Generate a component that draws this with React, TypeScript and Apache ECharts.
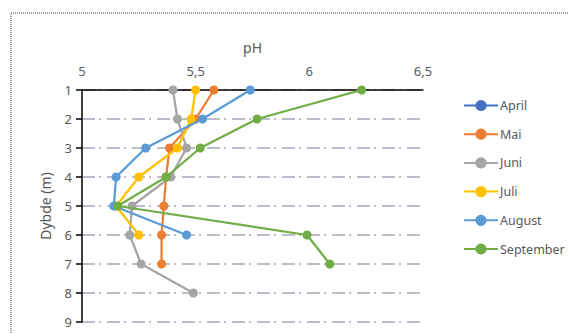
import React, { useEffect, useRef } from "react";
import * as echarts from "echarts";

const depths = [1, 2, 3, 4, 5, 6, 7, 8];
const seriesNames = ["April", "Mai", "Juni", "Juli", "August", "September"];
const colors = ["#4472C4", "#ED7D31", "#A5A5A5", "#FFC000", "#5B9BD5", "#70AD47"];
const aprilPH: (number | null)[] = [null, null, null, null, null, null, null, null];
const maiPH: (number | null)[] = [5.58, 5.5, 5.385, 5.37, 5.36, 5.35, 5.35, null];
const juniPH: (number | null)[] = [5.4, 5.42, 5.46, 5.39, 5.22, 5.21, 5.26, 5.49];
const juliPH: (number | null)[] = [5.5, 5.48, 5.42, 5.25, 5.15, 5.25, null, null];
const augustPH: (number | null)[] = [5.74, 5.53, 5.28, 5.15, 5.14, 5.46, null, null];
const septemberPH: (number | null)[] = [6.23, 5.77, 5.52, 5.37, 5.157, 5.99, 6.09, null];

const allPH = [aprilPH, maiPH, juniPH, juliPH, augustPH, septemberPH];

export default function App() {
  const ref = useRef<HTMLDivElement>(null);
  useEffect(() => {
    if (!ref.current) return;
    const chart = echarts.init(ref.current, null, { renderer: "svg" });
    const font = "Noto Sans";
    const series = seriesNames.map((name, i) => ({
      name,
      type: "line",
      data: allPH[i]
        .map((v, j) => (v === null ? null : [v, depths[j]]))
        .filter((p) => p !== null),
      symbol: "circle",
      symbolSize: 9,
      lineStyle: { width: 2.25, color: colors[i] },
      itemStyle: { color: colors[i] },
      z: 2 + i,
    }));
    chart.setOption({
      animation: false,
      textStyle: { fontFamily: font },
      graphic: [
        {
          type: "rect",
          shape: { x: 11, y: 13, width: 620, height: 400 },
          style: { fill: "none", stroke: "#404040", lineWidth: 1, lineDash: [1, 1] },
          silent: true,
        },
      ],
      legend: {
        orient: "vertical",
        left: 458,
        top: 94,
        itemWidth: 34,
        itemHeight: 14,
        itemGap: 15.7,
        data: seriesNames,
        textStyle: { fontSize: 12.5, color: "#595959", fontFamily: font, padding: [0, 0, 0, -3] },
      },
      grid: { left: 82, right: 146, top: 90, bottom: 11, containLabel: false },
      xAxis: {
        type: "value",
        position: "top",
        min: 5,
        max: 6.5,
        interval: 0.5,
        name: "pH",
        nameLocation: "middle",
        nameGap: 36,
        nameTextStyle: { fontSize: 14, color: "#595959" },
        axisLine: { show: true, onZero: false, lineStyle: { color: "#000", width: 1.5 } },
        axisTick: { show: false },
        axisLabel: {
          fontSize: 13,
          color: "#595959",
          margin: 13,
          formatter: (v: number) => String(v).replace(".", ","),
        },
        splitLine: { show: false },
      },
      yAxis: {
        type: "value",
        inverse: true,
        min: 1,
        max: 9,
        interval: 1,
        name: "Dybde (m)",
        nameLocation: "middle",
        nameGap: 30,
        nameTextStyle: { fontSize: 14, color: "#595959" },
        axisLine: { show: true, onZero: false, lineStyle: { color: "#000", width: 1.5 } },
        axisTick: { show: true, inside: false, length: 6, lineStyle: { color: "#000", width: 1.5 } },
        axisLabel: { fontSize: 13, color: "#595959", margin: 10 },
        splitLine: {
          show: true,
          lineStyle: { color: "#A3AAB9", width: 1.5, type: [13, 4, 2, 6] },
        },
      },
      series,
    });
    return () => chart.dispose();
  }, []);
  return (
    <div
      ref={ref}
      style={{ position: "fixed", left: 0, top: 0, width: 569, height: 333, background: "#fff" }}
    />
  );
}
